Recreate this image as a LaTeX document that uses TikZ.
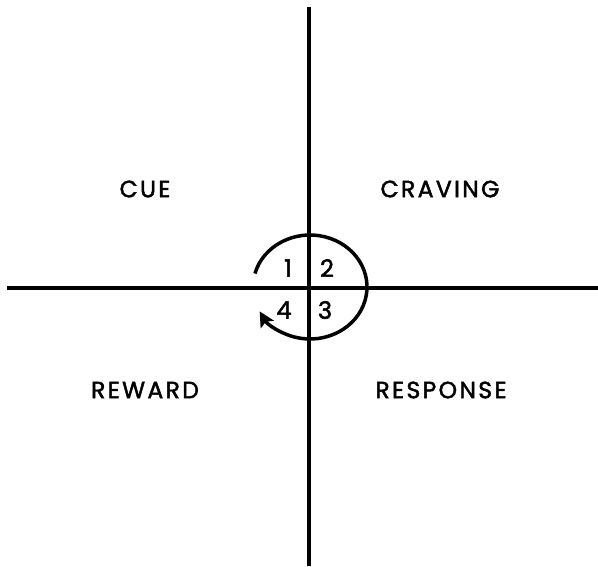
\documentclass[tikz,border=0pt]{standalone}
\usepackage{fontspec}
\setmainfont{Poppins}
\newfontfamily\lblfont{Poppins}[LetterSpace=10,FakeBold=2]
\newfontfamily\numfont{Poppins}[FakeBold=2]
\usetikzlibrary{arrows.meta}
\begin{document}
\begin{tikzpicture}[x=1pt,y=-1pt,
  axis/.style={line width=3.5pt},
  lbl/.style={font=\lblfont\fontsize{23.5}{23.5}\selectfont, inner sep=0pt, anchor=center},
  num/.style={font=\numfont\fontsize{24}{24}\selectfont, inner sep=0pt, anchor=center}]
\useasboundingbox (0,0) rectangle (598,566);
\coordinate (top) at (309,7);
\coordinate (bot) at (309,566);
\coordinate (lft) at (7,288);
\coordinate (rgt) at (598,288);
\draw[axis] (top) -- (bot);
\draw[axis] (lft) -- (rgt);
\node[lbl] (cue) at (145,189) {CUE};
\node[lbl] (craving) at (440,189) {CRAVING};
\node[lbl] (reward) at (145,390) {REWARD};
\node[lbl] (response) at (441,390) {RESPONSE};
\node[num] (n1) at (288,268) {1};
\node[num] (n2) at (327,268) {2};
\node[num] (n3) at (325,310) {3};
\node[num] (n4) at (284,310) {4};
\coordinate (c) at (310,287);
\draw[line width=3.5pt, -{Stealth[length=15pt,width=15pt,inset=3pt]}] (c) ++(165:57pt and 52pt) arc[start angle=165, end angle=-152, x radius=57pt, y radius=52pt];
\end{tikzpicture}
\end{document}
